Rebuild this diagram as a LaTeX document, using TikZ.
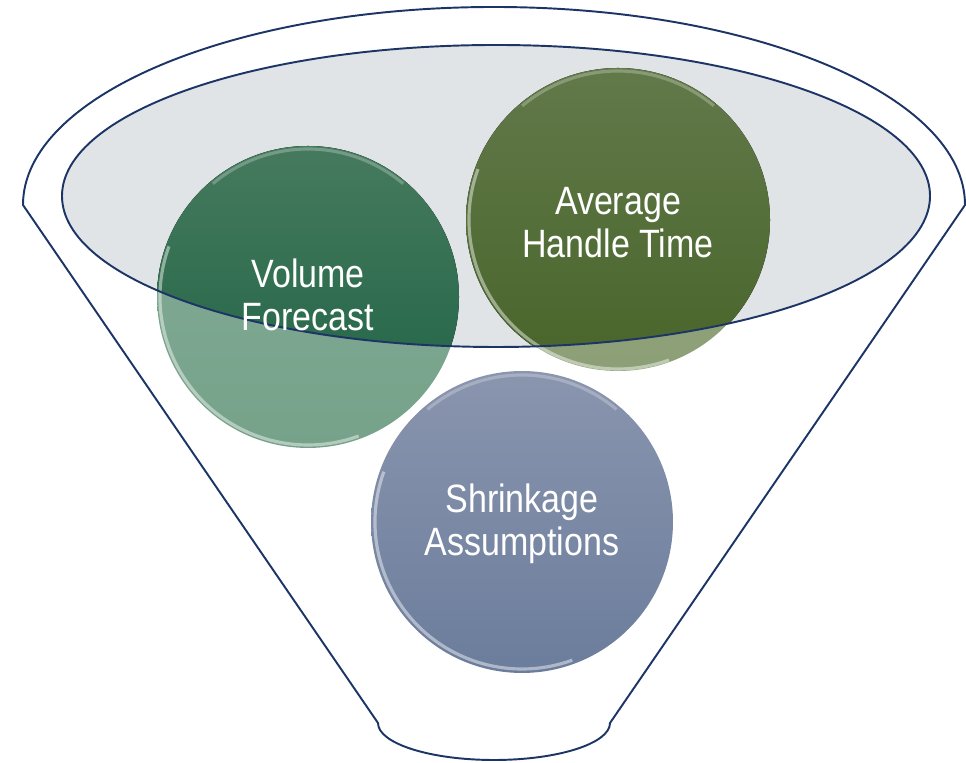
\documentclass[tikz,border=0pt]{standalone}
\usepackage{fontspec}
\setmainfont{Liberation Sans}
\usetikzlibrary{positioning}

\definecolor{rimline}{HTML}{1D3566}
\definecolor{glass}{HTML}{E1E4E7}
\definecolor{volTop}{HTML}{467A5E}
\definecolor{volBot}{HTML}{1C6243}
\definecolor{volLite}{HTML}{76A28A}
\definecolor{ahtTop}{HTML}{62794A}
\definecolor{ahtBot}{HTML}{48652A}
\definecolor{ahtLite}{HTML}{8C9F76}
\definecolor{shrTop}{HTML}{8A95AE}
\definecolor{shrBot}{HTML}{6B7D9C}

\newcommand\sqz[1]{\scalebox{.86}[1]{\begin{tabular}{@{}c@{}}#1\end{tabular}}}

\begin{document}
\begin{tikzpicture}[x=0.02cm,y=0.02cm,
    funnel/.style={draw=rimline,line width=1.1pt},
    ball/.style={circle,inner sep=0pt,minimum size=6.04cm},
    shine/.style={white,opacity=.45,line width=1.8pt},
    caption/.style={text=white,font=\fontsize{22.5}{24.5}\selectfont,inner sep=0pt}]
\useasboundingbox (0,0) rectangle (966,763);

% glass top of the funnel
\fill[glass] (496,567) ellipse[x radius=434,y radius=151];

% balls, pale where they hang below the glass
\node[ball,top color=volLite!90!white,bottom color=volLite] (vol) at (308,466) {};
\node[ball,top color=ahtLite!90!white,bottom color=ahtLite] (aht) at (618,543) {};
\node[ball,top color=shrTop,bottom color=shrBot] (shr) at (522,241) {};

% full colour inside the glass
\begin{scope}
\clip (496,567) ellipse[x radius=434,y radius=151];
\fill[top color=volTop,bottom color=volBot] (vol.center) circle[radius=151];
\fill[top color=ahtTop,bottom color=ahtBot] (aht.center) circle[radius=152];
\end{scope}

% rim highlights
\foreach \b/\r in {vol/148,aht/149,shr/147}{
  \draw[shine] ([shift={(160:\r)}]\b.center) arc[start angle=160,end angle=290,radius=\r];
  \draw[shine,opacity=.25] ([shift={(50:\r)}]\b.center) arc[start angle=50,end angle=130,radius=\r];
}

% funnel outline
\draw[funnel] (496,567) ellipse[x radius=434,y radius=151];
\draw[funnel] (965,558) arc[start angle=0,end angle=180,x radius=471,y radius=198]
  -- (378,40) arc[start angle=180,end angle=360,x radius=116,y radius=37] -- cycle;

\node[caption] (volt) at ([yshift=-2]vol.center) {\sqz{Volume\\Forecast}};
\node[caption] (ahtt) at ([yshift=-4]aht.center) {\sqz{Average\\Handle Time}};
\node[caption] (shrt) at ([yshift=-2]shr.center) {\sqz{Shrinkage\\Assumptions}};
\end{tikzpicture}
\end{document}
